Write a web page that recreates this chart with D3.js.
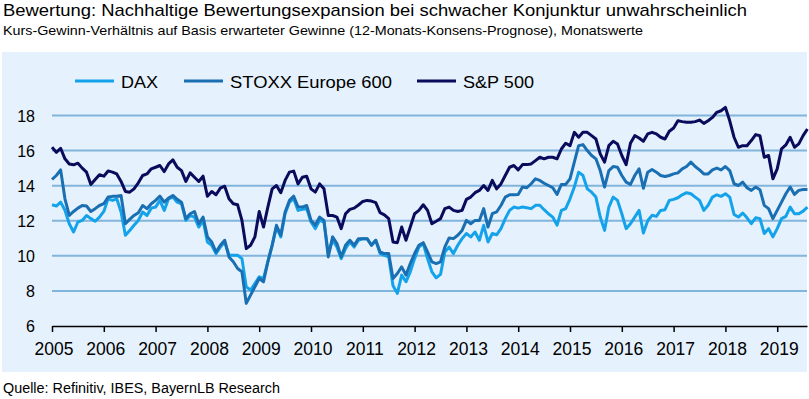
<!DOCTYPE html>
<html><head><meta charset="utf-8">
<script src="https://cdn.jsdelivr.net/npm/d3@7"></script>
<style>body{margin:0;background:#fff}svg{display:block;font-family:"Liberation Sans",Arial,sans-serif}</style>
</head><body><svg id="c" width="809" height="399"></svg>
<script>
const title = "Bewertung: Nachhaltige Bewertungsexpansion bei schwacher Konjunktur unwahrscheinlich";
const subtitle = "Kurs-Gewinn-Verhältnis auf Basis erwarteter Gewinne (12-Monats-Konsens-Prognose), Monatswerte";
const source = "Quelle: Refinitiv, IBES, BayernLB Research";
const seriesNames = ["DAX", "STOXX Europe 600", "S&P 500"];
const startYear = 2005;
const yTicks = [6, 8, 10, 12, 14, 16, 18];
const xTicks = [2005,2006,2007,2008,2009,2010,2011,2012,2013,2014,2015,2016,2017,2018,2019];

const dax = [
12.91,12.84,13.06,12.6,11.83,11.36,11.93,12.02,12.3,12.12,11.97,12.21,
12.53,13.25,13.16,13.25,12.5,11.17,11.45,11.74,12.02,12.5,12.3,12.72,
12.78,13.16,12.59,13.25,13.35,13.06,12.97,12.02,12.3,12.21,11.64,12.02,
10.79,10.6,10.13,10.5,10.79,10.03,10.03,10.03,9.84,8.23,8.05,8.42,
8.8,8.71,9.66,10.6,11.64,11.08,12.4,13.06,13.25,12.59,12.65,12.69,
11.93,11.55,12.02,11.93,10.13,10.89,10.5,9.84,10.41,10.79,10.5,10.89,
10.98,10.98,10.6,10.89,10.13,10.03,9.94,8.3,7.86,8.9,8.52,9.09,
9.84,10.5,10.7,9.84,9.09,8.75,8.94,10.22,10.5,10.13,10.6,10.98,
11.27,11.08,11.36,10.89,11.74,10.79,11.27,11.2,11.55,12.12,12.59,12.78,
12.72,12.78,12.74,12.69,12.88,12.88,12.63,12.4,12.21,11.75,12.59,12.69,
13.25,13.92,14.77,14.58,13.82,13.63,13.35,12.21,11.45,12.78,13.35,13.16,
12.4,11.55,11.83,12.21,12.59,11.3,12.0,12.31,12.25,12.59,12.63,13.16,
13.22,13.31,13.48,13.6,13.54,13.35,13.16,12.59,12.88,13.35,13.48,13.39,
13.54,13.35,12.36,12.21,12.44,12.17,11.83,12.17,12.12,11.27,11.55,11.08,
11.55,12.12,12.25,12.78,12.4,12.4,12.55,12.78];

const stoxx = [
14.35,14.58,14.9,13.25,12.3,12.53,12.72,12.87,12.84,12.53,12.69,12.87,
12.97,13.35,13.39,13.4,13.44,11.83,12.08,12.3,12.46,12.87,12.69,12.97,
13.16,13.4,13.06,13.29,13.44,13.22,13.06,12.12,12.4,12.53,11.83,12.21,
11.08,10.79,10.22,10.6,10.89,9.94,9.66,9.28,9.09,7.29,7.76,8.23,
8.71,8.52,9.66,10.6,11.74,11.17,12.5,13.16,13.4,12.78,12.78,12.87,
12.02,11.74,12.21,12.02,9.94,11.08,10.7,9.94,10.6,10.89,10.6,10.98,
10.98,10.98,10.6,10.89,10.22,10.13,10.13,8.71,8.99,9.37,8.9,9.56,
10.13,10.6,10.75,10.22,9.66,9.56,9.66,10.5,11.02,10.98,11.17,11.45,
12.02,11.83,12.02,12.02,12.69,11.64,12.4,12.5,12.87,13.35,13.48,13.48,
13.5,13.92,13.88,14.11,14.39,14.3,14.14,14.01,13.88,13.5,14.07,14.07,
14.39,15.34,16.28,16.34,16.0,15.72,15.53,14.86,13.92,14.86,15.09,15.05,
14.58,14.2,14.07,14.58,14.96,13.85,14.77,14.92,14.77,14.58,14.52,14.58,
14.67,14.73,14.96,15.09,15.34,15.09,14.9,14.67,14.67,14.9,15.0,14.9,
15.09,14.86,14.11,14.01,14.2,13.88,13.73,13.92,13.77,12.88,12.69,12.12,
12.59,13.06,13.54,13.92,13.5,13.73,13.78,13.78];

const sp500 = [
16.19,15.9,16.13,15.53,15.24,15.19,15.28,15.0,14.77,14.07,14.35,14.62,
14.54,14.84,14.77,14.67,14.24,13.67,13.63,13.82,14.16,14.58,14.67,14.96,
15.05,15.15,14.8,15.24,15.47,15.05,14.86,14.24,14.73,14.48,14.24,14.54,
13.4,13.67,13.48,13.86,13.97,13.25,12.97,12.91,12.02,10.41,10.6,11.08,
12.53,11.64,12.78,13.82,14.01,13.6,14.3,14.77,14.83,14.1,14.48,14.54,
13.82,13.63,14.1,13.82,12.3,12.3,12.21,11.55,12.4,12.65,12.72,12.9,
13.1,13.16,13.12,13.03,12.46,12.34,12.12,10.79,10.75,11.64,10.89,11.64,
12.4,12.59,12.91,12.59,11.83,11.97,12.12,12.69,12.78,12.59,12.53,12.59,
13.22,13.35,13.6,13.73,14.01,13.73,14.3,13.82,14.1,14.58,15.05,15.15,
14.9,15.2,15.2,15.24,15.43,15.62,15.53,15.62,15.62,15.53,16.09,16.42,
16.28,17.04,16.76,17.04,17.04,16.85,16.66,15.81,15.34,16.28,16.53,16.38,
15.72,15.2,16.42,16.85,16.72,16.53,16.95,17.04,16.95,16.76,16.66,17.1,
17.29,17.7,17.65,17.61,17.61,17.65,17.74,17.55,17.7,17.89,18.18,18.27,
18.46,17.7,16.76,16.19,16.28,16.28,16.57,16.91,16.85,15.62,15.72,14.39,
14.96,16.1,16.32,16.76,16.19,16.38,16.85,17.23];

const colors = ["#14a3ea", "#1a6fb2", "#0b0b5c"];
const allSeries = [dax, stoxx, sp500];

const svg = d3.select("#c");
// panel background
svg.append("rect").attr("x", 2).attr("y", 52).attr("width", 805).attr("height", 320).attr("fill", "#e5f1fc");

// titles
svg.append("text").attr("x", 3).attr("y", 15.5).attr("font-size", 17).attr("fill", "#000")
  .attr("textLength", 744).attr("lengthAdjust", "spacingAndGlyphs").text(title);
svg.append("text").attr("x", 3).attr("y", 34.5).attr("font-size", 13.5).attr("fill", "#000")
  .attr("textLength", 640).attr("lengthAdjust", "spacingAndGlyphs").text(subtitle);
svg.append("text").attr("x", 3).attr("y", 393).attr("font-size", 14).attr("fill", "#000")
  .attr("textLength", 277).attr("lengthAdjust", "spacingAndGlyphs").text(source);

const x = d3.scaleLinear().domain([startYear, 2019.575]).range([52, 807]);
const y = d3.scaleLinear().domain([6, 18]).range([326, 115.5]);

// gridlines
svg.append("g").selectAll("line").data(yTicks.filter(d => d > 6)).join("line")
  .attr("x1", x(startYear)).attr("x2", 807)
  .attr("y1", d => y(d)).attr("y2", d => y(d))
  .attr("stroke", "#82b5dc").attr("stroke-width", 2);

// y labels
svg.append("g").selectAll("text").data(yTicks).join("text")
  .attr("x", 35).attr("y", d => y(d) + 6).attr("text-anchor", "end")
  .attr("font-size", 16).attr("fill", "#000").text(d => d);

// x axis
const xAxis = d3.axisBottom(x).tickValues(xTicks).tickFormat(d3.format("d")).tickSize(6).tickSizeOuter(0);
const gx = svg.append("g").attr("transform", `translate(0,${y(6)})`).call(xAxis);
gx.select(".domain").attr("stroke", "#000").attr("stroke-width", 1.5);
gx.selectAll(".tick line").attr("stroke", "#000").attr("stroke-width", 1.5);
gx.selectAll(".tick text").attr("font-size", 17.5).attr("font-family", "Liberation Sans, Arial, sans-serif")
  .attr("fill", "#000").attr("dy", null).attr("y", 29).attr("dx", 1.5);

// lines
const line = d3.line().x((d, i) => x(startYear + i / 12)).y(d => y(d));
allSeries.forEach((s, k) => {
  svg.append("path").datum(s).attr("d", line).attr("fill", "none")
    .attr("stroke", colors[k]).attr("stroke-width", 3).attr("stroke-linejoin", "round");
});

// legend
const legX = [75, 184, 417];
const legW = [37, 162, 71];
seriesNames.forEach((n, k) => {
  svg.append("line").attr("x1", legX[k]).attr("x2", legX[k] + 39).attr("y1", 81).attr("y2", 81)
    .attr("stroke", colors[k]).attr("stroke-width", 3);
  svg.append("text").attr("x", legX[k] + 46).attr("y", 87.5).attr("font-size", 17).attr("fill", "#000")
    .attr("textLength", legW[k]).attr("lengthAdjust", "spacingAndGlyphs").text(n);
});
</script></body></html>
